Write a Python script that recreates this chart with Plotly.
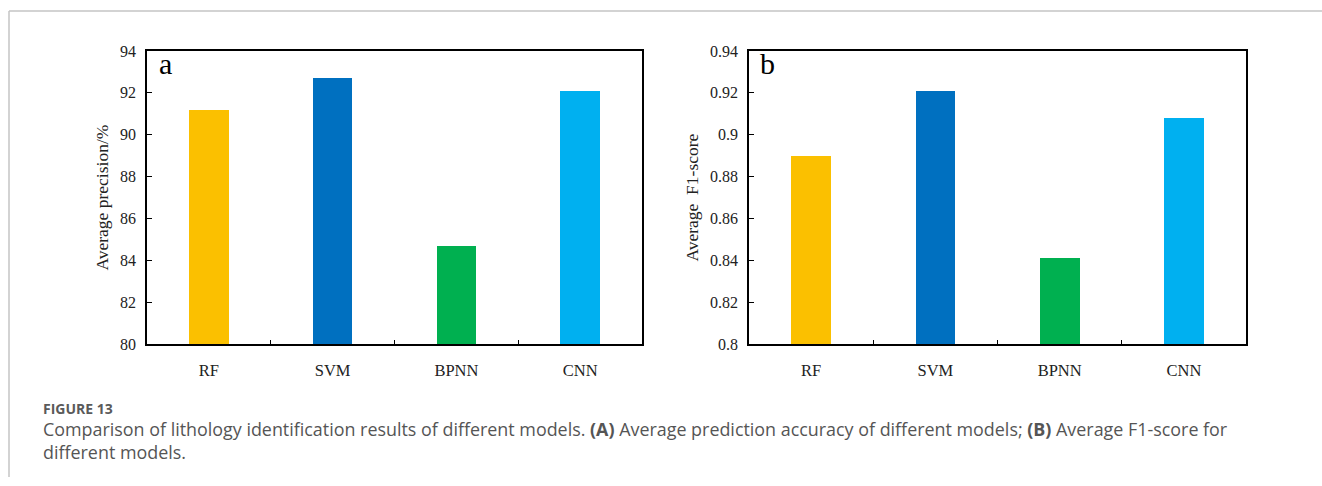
import plotly.graph_objects as go

W, H = 1322, 486

models = ["RF", "SVM", "BPNN", "CNN"]
colors = ["#FBC000", "#0070C0", "#00B050", "#00B0F0"]
precision = [91.2, 92.7, 84.7, 92.1]
f1_score = [0.890, 0.921, 0.841, 0.908]

prec_ticks = [80, 82, 84, 86, 88, 90, 92, 94]
f1_ticks = [0.80, 0.82, 0.84, 0.86, 0.88, 0.90, 0.92, 0.94]
f1_ticktext = ["0.8", "0.82", "0.84", "0.86", "0.88", "0.9", "0.92", "0.94"]

SERIF = "Liberation Serif, Times New Roman, serif"
SANS = "Open Sans, Lato, sans-serif"

# The page is shown with an 8 px top inset and a slight vertical squeeze,
# so pixel positions below are converted through this mapping.
TOP_INSET, V_SCALE = 8.0, 0.967


def px_x(x):
    return x / W


def px_y(y):
    return 1 - ((y - TOP_INSET) / V_SCALE) / H


fig = go.Figure()

fig.add_trace(go.Bar(x=models, y=precision, marker=dict(color=colors, line=dict(width=0)),
                     width=0.32, xaxis="x", yaxis="y", showlegend=False))
fig.add_trace(go.Bar(x=models, y=f1_score, marker=dict(color=colors, line=dict(width=0)),
                     width=0.32, xaxis="x2", yaxis="y2", showlegend=False))

common_x = dict(type="category", showline=True, mirror=True, linecolor="black", linewidth=1.5,
                ticks="inside", ticklen=5, tickwidth=1.2, tickcolor="black", tickson="boundaries",
                showgrid=False, zeroline=False, ticklabelstandoff=10,
                tickfont=dict(family=SERIF, size=16.5, color="#222"), fixedrange=True)
common_y = dict(showline=True, mirror=True, linecolor="black", linewidth=1.5,
                ticks="inside", ticklen=5, tickwidth=1.2, tickcolor="black",
                showgrid=False, zeroline=False, ticklabelstandoff=6,
                tickfont=dict(family=SERIF, size=16, color="#222"), fixedrange=True)

y_dom = [px_y(345), px_y(51)]

fig.update_layout(
    width=W, height=H,
    margin=dict(l=0, r=0, t=0, b=0),
    paper_bgcolor="white", plot_bgcolor="white",
    bargap=0,
    xaxis=dict(domain=[px_x(147), px_x(642)], anchor="y", **common_x),
    yaxis=dict(domain=y_dom, anchor="x", range=[80, 94], tickvals=prec_ticks,
               title=dict(text="Average precision/%", font=dict(family=SERIF, size=17.5, color="#222"),
                          standoff=7),
               **common_y),
    xaxis2=dict(domain=[px_x(749), px_x(1246)], anchor="y2", **common_x),
    yaxis2=dict(domain=y_dom, anchor="x2", range=[0.8, 0.94], tickvals=f1_ticks,
                ticktext=f1_ticktext,
                title=dict(text="Average  F1-score", font=dict(family=SERIF, size=17.5, color="#222"),
                           standoff=7),
                **common_y),
)

# Panel letters
for letter, xpx in (("a", 165), ("b", 767)):
    fig.add_annotation(text=letter, x=px_x(xpx), y=px_y(64), xref="paper", yref="paper",
                       xanchor="center", yanchor="middle", showarrow=False,
                       font=dict(family=SERIF, size=30, color="black"))

# Figure caption
fig.add_annotation(text="<b>FIGURE 13</b>", x=px_x(41), y=px_y(409), xref="paper", yref="paper",
                   xanchor="left", yanchor="middle", showarrow=False,
                   font=dict(family=SANS, size=14, color="#5a5a5a"))
fig.add_annotation(
    text="Comparison of lithology identification results of different models. <b>(A)</b> Average prediction "
         "accuracy of different models; <b>(B)</b> Average F1-score for",
    x=px_x(41), y=px_y(430), xref="paper", yref="paper", xanchor="left", yanchor="middle",
    showarrow=False, font=dict(family=SANS, size=17.9, color="#555555"))
fig.add_annotation(text="different models.", x=px_x(41), y=px_y(453), xref="paper", yref="paper",
                   xanchor="left", yanchor="middle", showarrow=False,
                   font=dict(family=SANS, size=17.9, color="#555555"))

# Thin frame along the top and left edges
fig.add_shape(type="line", xref="paper", yref="paper", x0=px_x(9), x1=1, y0=px_y(11), y1=px_y(11),
              line=dict(color="#c4c4c4", width=1.5))
fig.add_shape(type="line", xref="paper", yref="paper", x0=px_x(9), x1=px_x(9), y0=px_y(11), y1=0,
              line=dict(color="#c4c4c4", width=1.5))

fig.write_html("out.html")
